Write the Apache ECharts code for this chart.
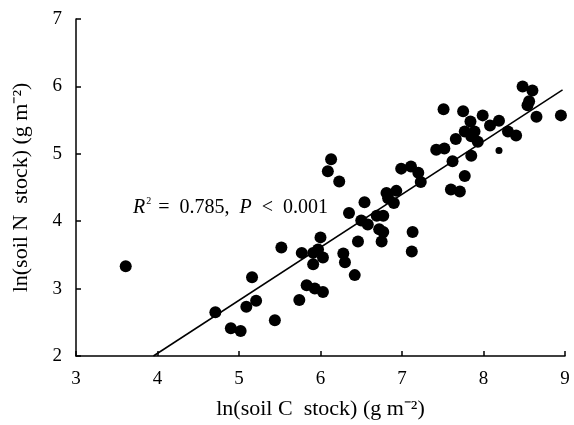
<!DOCTYPE html>
<html>
<head>
<meta charset="utf-8">
<title>ln(soil N stock) vs ln(soil C stock)</title>
<script src="https://cdn.jsdelivr.net/npm/echarts@6/dist/echarts.min.js"></script>
<style>
html, body { margin: 0; padding: 0; background: #fff; }
#chart { width: 574px; height: 425px; }
</style>
</head>
<body>
<div id="chart"></div>
<script>
// ln(soil C stock), ln(soil N stock)
var soilC = [3.61, 4.71, 4.90, 5.02, 5.09, 5.21, 5.16, 5.44, 5.52, 5.77,
             5.91, 5.91, 5.74, 5.83, 5.93, 6.03, 6.00, 5.97, 6.03, 6.13,
             6.09, 6.23, 6.28, 6.30, 6.42, 6.35, 6.54, 6.50, 6.58, 6.46,
             6.69, 6.77, 6.72, 6.77, 6.75, 6.81, 6.90, 6.93, 6.83, 6.99,
             7.11, 7.20, 7.23, 7.13, 7.12, 7.42, 7.52, 7.51, 7.62, 7.60,
             7.71, 7.77, 7.75, 7.66, 7.77, 7.84, 7.85, 7.89, 7.93, 7.85,
             7.99, 8.08, 8.19, 8.30, 8.40, 8.48, 8.60, 8.56, 8.54, 8.65,
             8.95];
var soilN = [3.33, 2.65, 2.41, 2.37, 2.73, 2.82, 3.17, 2.53, 3.61, 3.53,
             3.53, 3.36, 2.83, 3.05, 3.00, 2.95, 3.76, 3.58, 3.46, 4.92,
             4.74, 4.59, 3.52, 3.39, 3.20, 4.12, 4.28, 4.01, 3.95, 3.70,
             4.08, 4.08, 3.88, 3.84, 3.70, 4.42, 4.27, 4.45, 4.34, 4.78,
             4.81, 4.72, 4.58, 3.84, 3.55, 5.06, 5.08, 5.66, 4.89, 4.47,
             4.44, 4.67, 5.63, 5.22, 5.33, 5.48, 4.97, 5.33, 5.18, 5.26,
             5.57, 5.42, 5.49, 5.33, 5.27, 6.00, 5.94, 5.78, 5.72, 5.55,
             5.57];
// the one small dot
var smallC = [8.19];
var smallN = [5.05];
// regression line end points
var fitC = [3.95, 8.97];
var fitN = [2.0, 5.95];

var xMin = 3, xMax = 9, yMin = 2, yMax = 7;

var serif = '"Liberation Serif", "Times New Roman", serif';

var points = soilC.map(function (c, i) { return [c, soilN[i]]; });
var smallPoints = smallC.map(function (c, i) { return [c, smallN[i]]; });
var fit = fitC.map(function (c, i) { return [c, fitN[i]]; });

var chart = echarts.init(document.getElementById('chart'));

var axisCommon = {
	axisLine: { show: true, onZero: false, lineStyle: { color: '#000', width: 1.5 } },
	axisTick: { show: true, inside: true, length: 5, lineStyle: { color: '#000', width: 1.5 } },
	splitLine: { show: false },
	axisLabel: { color: '#000', fontFamily: serif, fontSize: 19 },
	nameLocation: 'middle',
	nameTextStyle: { color: '#000', fontFamily: serif, fontSize: 22 }
};

chart.setOption({
	backgroundColor: '#fff',
	animation: false,
	grid: { left: 76, right: 9, top: 19, bottom: 68 },
	xAxis: Object.assign({}, axisCommon, {
		type: 'value', min: xMin, max: xMax, interval: 1,
		name: 'ln(soil C  stock) (g m\u207B\u00B2)',
		nameGap: 42,
		axisLabel: Object.assign({}, axisCommon.axisLabel, { margin: 14 })
	}),
	yAxis: Object.assign({}, axisCommon, {
		type: 'value', min: yMin, max: yMax, interval: 1,
		name: 'ln(soil N  stock) (g m\u207B\u00B2)',
		nameRotate: 90,
		nameGap: 44,
		axisLabel: Object.assign({}, axisCommon.axisLabel, { margin: 14 })
	}),
	graphic: [{
		type: 'text',
		left: 133,
		top: 196,
		style: {
			text: '{i|R}{s|2}{n| =  0.785,  }{i|P}{n|  <  0.001}',
			fill: '#000',
			rich: {
				i: { fontFamily: serif, fontSize: 20, fontStyle: 'italic', lineHeight: 24, fill: '#000' },
				n: { fontFamily: serif, fontSize: 20, lineHeight: 24, fill: '#000' },
				s: { fontFamily: serif, fontSize: 10, lineHeight: 24, verticalAlign: 'top', fill: '#000', padding: [0, 2, 8, 1] }
			}
		}
	}],
	series: [{
		type: 'line',
		data: fit,
		symbol: 'none',
		lineStyle: { color: '#000', width: 1.5 },
		z: 1
	}, {
		type: 'scatter',
		data: points,
		symbol: 'circle',
		symbolSize: 12,
		itemStyle: { color: '#000', opacity: 1 },
		z: 2
	}, {
		type: 'scatter',
		data: smallPoints,
		symbol: 'circle',
		symbolSize: 7,
		itemStyle: { color: '#000', opacity: 1 },
		z: 2
	}]
});
</script>
</body>
</html>
